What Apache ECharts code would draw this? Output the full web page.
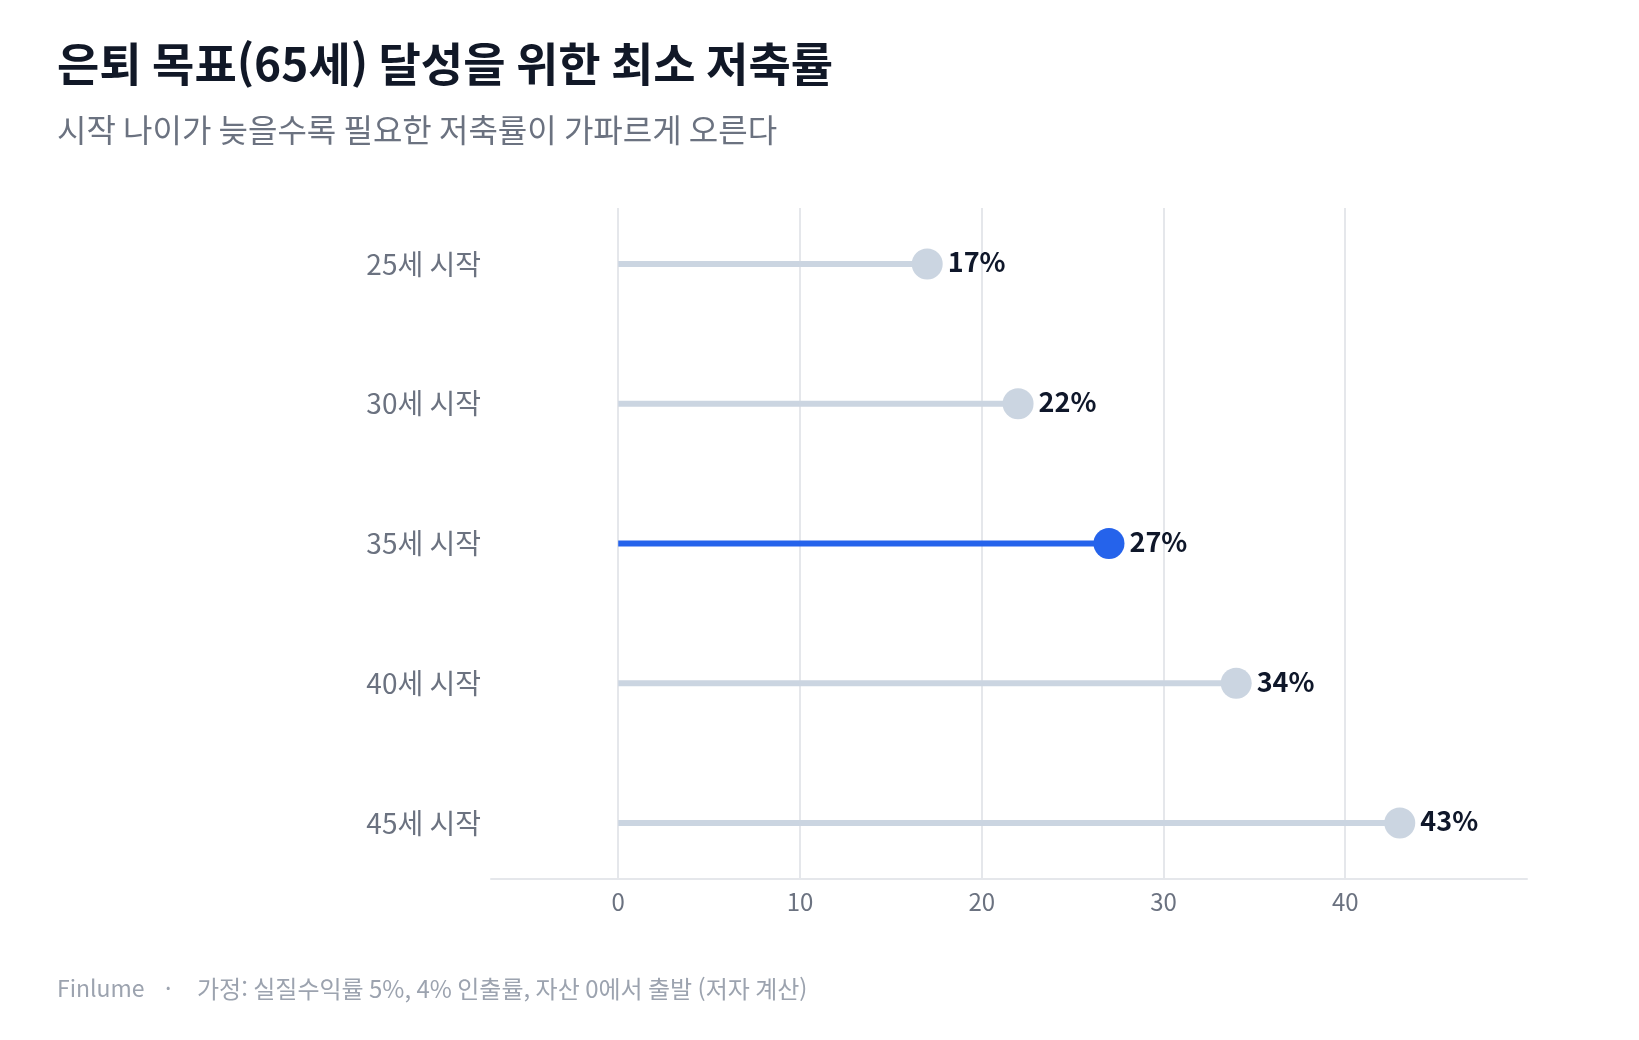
<!DOCTYPE html>
<html lang="ko">
<head>
<meta charset="utf-8">
<script src="https://cdn.jsdelivr.net/npm/echarts@6/dist/echarts.min.js"></script>
<style>
  html, body { margin: 0; padding: 0; background: #ffffff; }
  #chart { width: 1639px; height: 1040px; }
</style>
</head>
<body>
<div id="chart"></div>
<script>
// 데이터
const categories = ['25세 시작', '30세 시작', '35세 시작', '40세 시작', '45세 시작'];
const rates = [17, 22, 27, 34, 43];
const highlighted = [false, false, true, false, false];
const xTicks = [0, 10, 20, 30, 40];
const yTicks = [0, 1, 2, 3, 4];

const FONT = '"Noto Sans CJK KR", "Noto Sans", sans-serif';
const GREY = '#cbd5e1';
const BLUE = '#2563eb';

const points = rates.map(function (v, i) { return [v, i]; });

var chart = echarts.init(document.getElementById('chart'));

var option = {
  backgroundColor: '#ffffff',
  animation: false,
  textStyle: { fontFamily: FONT },
  title: {
    text: '은퇴 목표(65세) 달성을 위한 최소 저축률',
    subtext: '시작 나이가 늦을수록 필요한 저축률이 가파르게 오른다',
    left: 52,
    top: 36,
    itemGap: 27,
    textStyle: { fontFamily: FONT, fontSize: 46, fontWeight: 'bold', color: '#111827' },
    subtextStyle: { fontFamily: FONT, fontSize: 32, color: '#6b7280' }
  },
  grid: { left: 491, right: 112, top: 208, bottom: 161, containLabel: false },
  xAxis: {
    type: 'value',
    min: -7,
    max: 50,
    axisLine: { show: true, onZero: false, lineStyle: { color: '#e5e7eb', width: 2 } },
    axisTick: { show: false, customValues: xTicks },
    axisLabel: { customValues: xTicks, color: '#6b7280', fontSize: 24, margin: 11, fontFamily: FONT },
    splitLine: { show: true, lineStyle: { color: '#e5e7eb', width: 2 } }
  },
  yAxis: {
    type: 'value',
    min: -0.4,
    max: 4.4,
    inverse: true,
    axisLine: { show: false },
    axisTick: { show: false },
    splitLine: { show: false },
    axisLabel: {
      customValues: yTicks,
      color: '#6b7280',
      fontSize: 28,
      margin: 10,
      fontFamily: FONT,
      formatter: function (v) { return categories[Math.round(v)]; }
    }
  },
  series: [
    {
      type: 'custom',
      data: points,
      z: 2,
      renderItem: function (params, api) {
        var idx = api.value(1);
        var start = api.coord([0, idx]);
        var end = api.coord([api.value(0), idx]);
        return {
          type: 'line',
          shape: { x1: start[0], y1: start[1], x2: end[0], y2: end[1] },
          style: { stroke: highlighted[params.dataIndex] ? BLUE : GREY, lineWidth: 6 }
        };
      }
    },
    {
      type: 'scatter',
      data: points,
      z: 3,
      symbolSize: 31,
      itemStyle: {
        opacity: 1,
        color: function (p) { return highlighted[p.dataIndex] ? BLUE : GREY; }
      },
      label: {
        show: true,
        position: 'right',
        distance: 5,
        offset: [0, -2],
        color: '#0f172a',
        fontSize: 27,
        fontWeight: 'bold',
        fontFamily: FONT,
        formatter: function (p) { return p.value[0] + '%'; }
      }
    }
  ],
  graphic: [
    { type: 'text', left: 57, top: 977, style: { text: 'Finlume', fontSize: 23, fontFamily: FONT, fill: '#9ca3af' } },
    { type: 'text', left: 165, top: 977, style: { text: '·', fontSize: 23, fontFamily: FONT, fill: '#9ca3af' } },
    { type: 'text', left: 197, top: 977, style: { text: '가정: 실질수익률 5%, 4% 인출률, 자산 0에서 출발 (저자 계산)', fontSize: 24, fontFamily: FONT, fill: '#9ca3af' } }
  ]
};

chart.setOption(option);
</script>
</body>
</html>
